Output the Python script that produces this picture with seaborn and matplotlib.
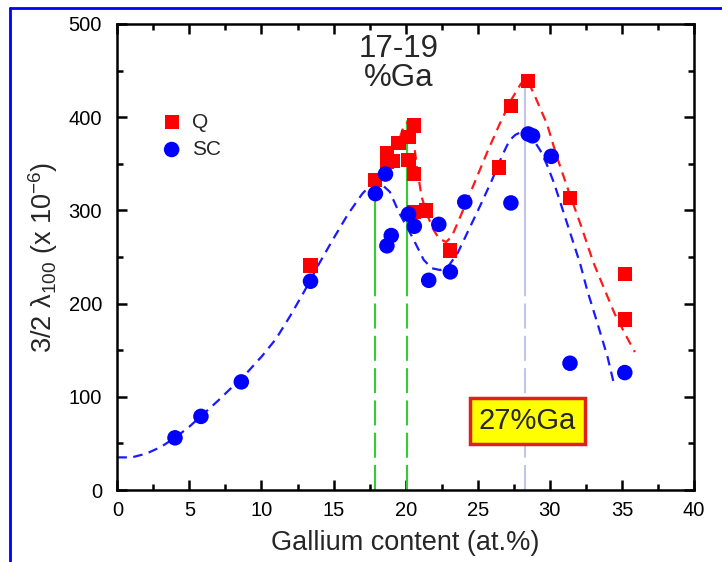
import numpy as np
import pandas as pd
import matplotlib.pyplot as plt
import seaborn as sns
from matplotlib.lines import Line2D
from matplotlib.ticker import MultipleLocator

sns.set_theme(style="ticks")
plt.rcParams['font.family'] = ['Liberation Sans', 'DejaVu Sans']
plt.rcParams['mathtext.fontset'] = 'custom'
plt.rcParams['mathtext.rm'] = 'Liberation Sans'
plt.rcParams['mathtext.it'] = 'Liberation Sans'

# -----------------------------
# Data
# -----------------------------
# Q samples (red squares)
q_ga = [13.4, 17.9, 18.7, 18.7, 19.1, 19.5, 20.2, 20.6, 20.2, 20.6, 20.6, 21.4,
        23.1, 26.5, 27.3, 28.5, 31.4, 35.2, 35.2]
q_lam = [241, 333, 361, 352, 353, 372, 379, 391, 354, 339, 298, 300,
         257, 346, 412, 439, 313, 232, 183]

# SC samples (blue circles)
sc_ga = [4.0, 5.8, 8.6, 13.4, 17.9, 18.6, 19.0, 18.7, 20.2, 20.6, 22.3, 21.6,
         23.1, 24.1, 27.3, 28.5, 28.8, 30.1, 31.4, 35.2]
sc_lam = [56, 79, 116, 224, 318, 339, 273, 262, 296, 283, 285, 225,
          234, 309, 308, 382, 380, 358, 136, 126]

# dashed guide curves
sc_curve_x = [0, 1, 2, 3, 4, 5, 6, 7, 8, 9, 10, 11, 12, 13, 14, 15, 16, 17,
              17.5, 17.9, 18.4, 18.9, 19.3, 19.6, 20.2, 20.7, 21.25, 21.8, 22.4,
              23.0, 23.6, 24.4, 25.2, 26.0, 26.7, 27.2, 27.6, 28.0, 28.5, 28.9,
              29.35, 29.8, 30.3, 31.2, 32.1, 32.6, 33.3, 34.0, 34.4]
sc_curve_y = [35, 35, 39, 46, 56, 68, 82, 96, 111, 126, 143, 162, 187, 214, 243,
              270, 296, 318, 326, 330, 327, 320, 306, 296, 279, 264, 247, 238, 236,
              241, 254, 280, 306, 333, 359, 375, 381, 384, 382, 375,
              364, 349, 329, 286, 243, 214, 179, 143, 117]

q_curve_x = [19.6, 19.9, 20.2, 20.5, 20.8, 21.1, 21.5, 21.9, 22.3, 22.8, 23.2,
             23.7, 24.3, 25.0, 25.7, 26.5, 27.3, 28.0, 28.4, 28.9, 29.4, 29.8,
             30.5, 31.3, 32.2, 33.0, 33.8, 34.5, 35.2, 35.9]
q_curve_y = [378, 392, 395, 380, 345, 315, 295, 280, 270, 266, 272,
             290, 312, 338, 364, 392, 418, 436, 441, 425, 407, 393,
             357, 321, 282, 245, 215, 189, 168, 148]

# marker lines: x position, top of solid part, where solid part ends
green_x = [17.9, 20.1]
green_top = [332, 396]
violet_x = [28.3]
violet_top = [441]
solid_end = 213

q_df = pd.DataFrame({"ga": q_ga, "lam": q_lam})
sc_df = pd.DataFrame({"ga": sc_ga, "lam": sc_lam})
sc_curve = pd.DataFrame({"ga": sc_curve_x, "lam": sc_curve_y})
q_curve = pd.DataFrame({"ga": q_curve_x, "lam": q_curve_y})

# -----------------------------
# Plot
# -----------------------------
fig = plt.figure(figsize=(7.22, 5.62), dpi=100)
ax = fig.add_axes([0.1625, 0.1281, 0.7987, 0.8292])

# vertical marker lines
for x, top in zip(green_x, green_top):
    ax.plot([x, x], [solid_end, top], color="#33cc33", lw=1.5, zorder=1)
    ax.plot([x, x], [0, solid_end], color="#33cc33", lw=1.5, dashes=(12, 3.5), zorder=1)
for x, top in zip(violet_x, violet_top):
    ax.plot([x, x], [solid_end, top], color="#c4c4e6", lw=1.5, zorder=1)
    ax.plot([x, x], [0, solid_end], color="#c4c4e6", lw=1.5, dashes=(12, 3.5), zorder=1)

sns.lineplot(data=sc_curve, x="ga", y="lam", sort=False, estimator=None, ax=ax,
             color="#1a1aff", lw=1.6, zorder=2).lines[-1].set_dashes((4.3, 2.9))
sns.lineplot(data=q_curve, x="ga", y="lam", sort=False, estimator=None, ax=ax,
             color="#ff1a1a", lw=1.6, zorder=2).lines[-1].set_dashes((4.3, 2.9))

sns.scatterplot(data=q_df, x="ga", y="lam", marker="s", s=105, color="#ff0000",
                edgecolor="none", ax=ax, label="Q", zorder=3)
sns.scatterplot(data=sc_df, x="ga", y="lam", marker="o", s=125, color="#0000ff",
                edgecolor="none", ax=ax, label="SC", zorder=4)

ax.set_xlim(0, 40)
ax.set_ylim(0, 500)
ax.xaxis.set_major_locator(MultipleLocator(5))
ax.xaxis.set_minor_locator(MultipleLocator(2.5))
ax.yaxis.set_major_locator(MultipleLocator(100))
ax.yaxis.set_minor_locator(MultipleLocator(50))
ax.tick_params(which="both", direction="in", top=True, right=True, width=1.8,
               labelsize=14.5, colors="black")
ax.tick_params(axis="x", which="major", length=7, pad=8)
ax.tick_params(axis="y", which="major", length=7, pad=11)
ax.tick_params(which="minor", length=4.5)
for sp in ax.spines.values():
    sp.set_linewidth(1.8)
    sp.set_color("black")

ax.set_xlabel("Gallium content (at.%)", fontsize=19.5, labelpad=7)
ax.set_ylabel("3/2 λ$_{100}$ (x 10$^{-6}$)", fontsize=19.5, labelpad=6)

ax.legend(loc="upper left", bbox_to_anchor=(0.04, 0.85), frameon=False,
          fontsize=15, handletextpad=0.4, labelspacing=0.4, handlelength=1.2)

ax.text(19.5, 473, "17-19", ha="center", va="center", fontsize=22.5)
ax.text(19.5, 442, "%Ga", ha="center", va="center", fontsize=22.5)
ax.text(28.45, 74, "27%Ga", ha="center", va="center", fontsize=21,
        bbox=dict(boxstyle="square,pad=0.3", facecolor="#ffff00",
                  edgecolor="#e02020", linewidth=2.5))

# blue frame of the original page
fig.add_artist(Line2D([0.0139, 1.0], [0.9858, 0.9858], color="#0000ff", lw=2))
fig.add_artist(Line2D([0.0139, 0.0139], [0.0, 0.9858], color="#0000ff", lw=2))

fig.savefig("out.png", dpi=100)
